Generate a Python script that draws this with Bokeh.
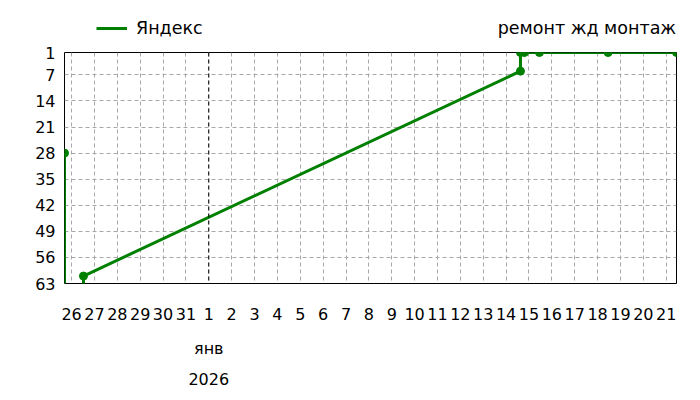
import pandas as pd
from bokeh.plotting import figure
from bokeh.layouts import column
from bokeh.models import Range1d, FixedTicker, LinearAxis, Legend, LegendItem, Span
from bokeh.embed import file_html
from bokeh.resources import INLINE

# ---- data ----
times = ["2025-12-25 16:35", "2025-12-25 16:35", "2025-12-26 12:30", "2025-12-26 12:30",
         "2026-01-14 15:05", "2026-01-14 15:05", "2026-01-14 19:10", "2026-01-15 11:00",
         "2026-01-18 11:00", "2026-01-21 10:50"]
ranks = [28, 100, 100, 61, 6, 1, 1, 1, 1, 1]
series_name = "Яндекс"
chart_title = "ремонт жд монтаж"

day_ticks = [-6, -5, -4, -3, -2, -1, 0, 1, 2, 3, 4, 5, 6, 7, 8, 9, 10,
             11, 12, 13, 14, 15, 16, 17, 18, 19, 20]
day_labels = ["26", "27", "28", "29", "30", "31", "1", "2", "3", "4", "5", "6", "7", "8",
              "9", "10", "11", "12", "13", "14", "15", "16", "17", "18", "19", "20", "21"]
month_label = "янв"
year_label = "2026"
y_ticks = [1, 7, 14, 21, 28, 35, 42, 49, 56, 63]

origin = pd.Timestamp("2026-01-01")
x = list((pd.to_datetime(times) - origin) / pd.Timedelta(days=1))

FONT = "DejaVu Sans"
GREEN = "#008000"
W = 692
HEAD_H = 44

# ---------------- main chart ----------------
p = figure(width=W, height=392 - HEAD_H, output_backend="svg", toolbar_location=None,
           x_range=Range1d(x[0], x[-1]), y_range=Range1d(y_ticks[-1], y_ticks[0]),
           min_border_left=64, min_border_right=16, min_border_top=8, min_border_bottom=109)
p.title.visible = False
p.background_fill_color = "white"
p.border_fill_color = "white"
p.outline_line_color = "black"
p.outline_line_width = 1

xa = p.xaxis[0]
xa.ticker = FixedTicker(ticks=day_ticks)
xa.major_label_overrides = {t: l for t, l in zip(day_ticks, day_labels)}
xa.axis_line_color = None
xa.major_tick_line_color = None
xa.minor_tick_line_color = None
xa.major_tick_out = 0
xa.major_tick_in = 0
xa.major_label_standoff = 24
xa.major_label_text_font = FONT
xa.major_label_text_font_size = "16px"
xa.major_label_text_color = "black"

def extra_axis(label, standoff):
    ax = LinearAxis(ticker=FixedTicker(ticks=[0]), major_label_overrides={0: label})
    ax.axis_line_color = None
    ax.major_tick_line_color = None
    ax.minor_tick_line_color = None
    ax.major_tick_out = 0
    ax.major_tick_in = 0
    ax.major_label_standoff = standoff
    ax.major_label_text_font = FONT
    ax.major_label_text_font_size = "16px"
    ax.major_label_text_color = "black"
    return ax

p.add_layout(extra_axis(month_label, 16), "below")
p.add_layout(extra_axis(year_label, 12), "below")

ya = p.yaxis[0]
ya.ticker = FixedTicker(ticks=y_ticks)
ya.axis_line_color = None
ya.major_tick_line_color = None
ya.minor_tick_line_color = None
ya.major_tick_out = 0
ya.major_tick_in = 0
ya.major_label_standoff = 9
ya.major_label_text_font = FONT
ya.major_label_text_font_size = "16px"
ya.major_label_text_color = "black"

p.xgrid.ticker = FixedTicker(ticks=day_ticks)
p.ygrid.ticker = FixedTicker(ticks=y_ticks)
for g in (p.xgrid[0], p.ygrid[0]):
    g.grid_line_color = "#a8a8a8"
    g.grid_line_dash = "4 3"
    g.grid_line_width = 1

p.add_layout(Span(location=0, dimension="height", line_color="black",
                  line_dash="4 3", line_width=1))

p.line(x, ranks, line_color=GREEN, line_width=3)
p.scatter(x, ranks, size=8, fill_color=GREEN, line_color=GREEN)

# ---------------- header row: legend + chart title ----------------
head = figure(width=W, height=HEAD_H, output_backend="svg", toolbar_location=None,
              x_range=Range1d(0, 1), y_range=Range1d(0, 1),
              x_axis_location=None, y_axis_location=None,
              min_border_left=0, min_border_right=0, min_border_top=0, min_border_bottom=0)
head.title.visible = False
head.outline_line_color = None
head.xgrid.visible = False
head.ygrid.visible = False
nan = float("nan")
r_series = head.line([0, 1], [nan, nan], line_color=GREEN, line_width=3)
r_title = head.line([0, 1], [nan, nan], line_alpha=0)

legend = Legend(items=[LegendItem(label=series_name, renderers=[r_series]),
                       LegendItem(label=chart_title, renderers=[r_title])],
                location=(32, 0), orientation="horizontal",
                glyph_width=31, glyph_height=32, label_height=32,
                label_standoff=9, padding=0, margin=0, spacing=255,
                border_line_color=None, background_fill_alpha=0,
                label_text_font=FONT, label_text_font_size="17.5px",
                label_text_color="black")
head.add_layout(legend, "center")

layout = column(head, p, spacing=0)
open("out.html", "w").write(file_html(layout, INLINE))
